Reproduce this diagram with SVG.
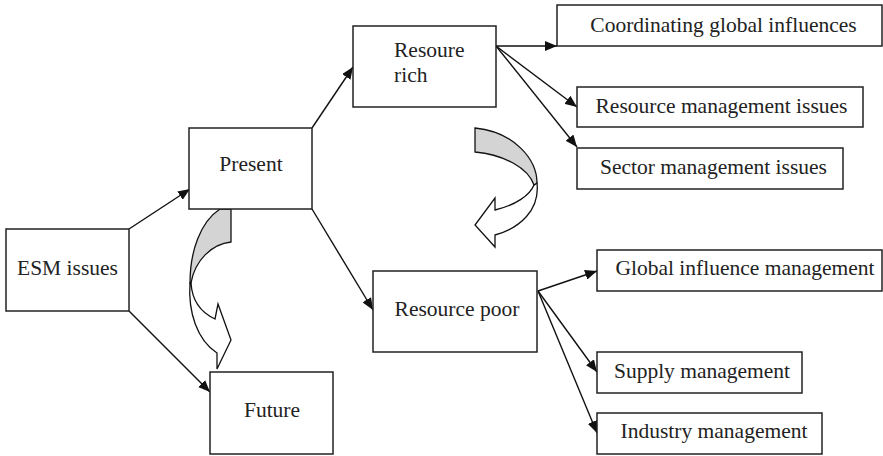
<svg xmlns="http://www.w3.org/2000/svg" width="883" height="456" viewBox="0 0 883 456">
<style>
.box{fill:#fff;stroke:#222;stroke-width:1.5}
.t{font-family:"Liberation Serif","Times New Roman",serif;font-size:21.5px;fill:#222;text-anchor:middle}
.ts{font-family:"Liberation Serif","Times New Roman",serif;font-size:21.5px;fill:#222}
.c{stroke:#111;stroke-width:1.4;fill:none;marker-end:url(#ah)}
.cv{stroke:#111;stroke-width:1.3;stroke-linejoin:miter}
</style>
<defs>
<marker id="ah" viewBox="0 0 12 10" refX="12" refY="5" markerWidth="12" markerHeight="10" markerUnits="userSpaceOnUse" orient="auto">
<path d="M0,0 L12,5 L0,10 Z" fill="#111"/>
</marker>
</defs>
<rect width="883" height="456" fill="#fff"/>
<g id="curved-arrows">
<g id="curve-left">
<path class="cv" fill="#fff" d="M191,283 C192,300 200,312 215,319 L218,304 L231,340 L217,369 L217,353 C197,340 188,312 190,283 Z"/>
<path class="cv" fill="#d4d4d4" d="M220,209 L231,209 L231,242 C212,244 195,260 191,283 L190,283 C190,252 200,222 220,209 Z"/>
</g>
<g id="curve-right">
<path class="cv" fill="#fff" d="M534,185 C530,195 516,205 495,210 L495,198 L475,225 L495,247 L495,235 C520,228 540,210 537,183 Z"/>
<path class="cv" fill="#d4d4d4" d="M475,128 L475,152 C505,155 528,168 534,185 L537,183 C537,160 515,132 475,128 Z"/>
</g>
</g>
<g id="connectors">
<line class="c" x1="129" y1="229" x2="190" y2="189"/>
<line class="c" x1="129" y1="311" x2="210" y2="392"/>
<line class="c" x1="312" y1="128" x2="353" y2="67"/>
<line class="c" x1="312" y1="209" x2="373" y2="310"/>
<line class="c" x1="496" y1="46" x2="557" y2="46"/>
<line class="c" x1="496" y1="46" x2="577" y2="107"/>
<line class="c" x1="496" y1="46" x2="577" y2="147"/>
<line class="c" x1="538" y1="291" x2="597" y2="271"/>
<line class="c" x1="538" y1="291" x2="597" y2="372"/>
<line class="c" x1="538" y1="291" x2="597" y2="433"/>
</g>
<g id="esm"><rect class="box" x="6" y="229" width="123" height="82"/><text class="t" x="67.5" y="275">ESM issues</text></g>
<g id="present"><rect class="box" x="189" y="128" width="123" height="81"/><text class="t" x="251" y="171">Present</text></g>
<g id="future"><rect class="box" x="210" y="372" width="123" height="82"/><text class="t" x="272" y="417">Future</text></g>
<g id="rich"><rect class="box" x="353" y="26" width="143" height="81"/><text class="ts" x="394" y="57">Resoure</text><text class="ts" x="394" y="82">rich</text></g>
<g id="poor"><rect class="box" x="373" y="271" width="164" height="81"/><text class="t" x="457" y="316">Resource poor</text></g>
<g id="coord"><rect class="box" x="557" y="5" width="325" height="41"/><text class="t" x="723.5" y="32">Coordinating global influences</text></g>
<g id="resmgmt"><rect class="box" x="577" y="87" width="286" height="40"/><text class="t" x="721.5" y="113">Resource management issues</text></g>
<g id="sector"><rect class="box" x="577" y="148" width="266" height="41"/><text class="t" x="713.5" y="174">Sector management issues</text></g>
<g id="global"><rect class="box" x="597" y="250" width="285" height="41"/><text class="t" x="745" y="275">Global influence management</text></g>
<g id="supply"><rect class="box" x="597" y="352" width="205" height="41"/><text class="t" x="702" y="378">Supply management</text></g>
<g id="industry"><rect class="box" x="597" y="413" width="225" height="41"/><text class="t" x="714" y="438">Industry management</text></g>
</svg>
